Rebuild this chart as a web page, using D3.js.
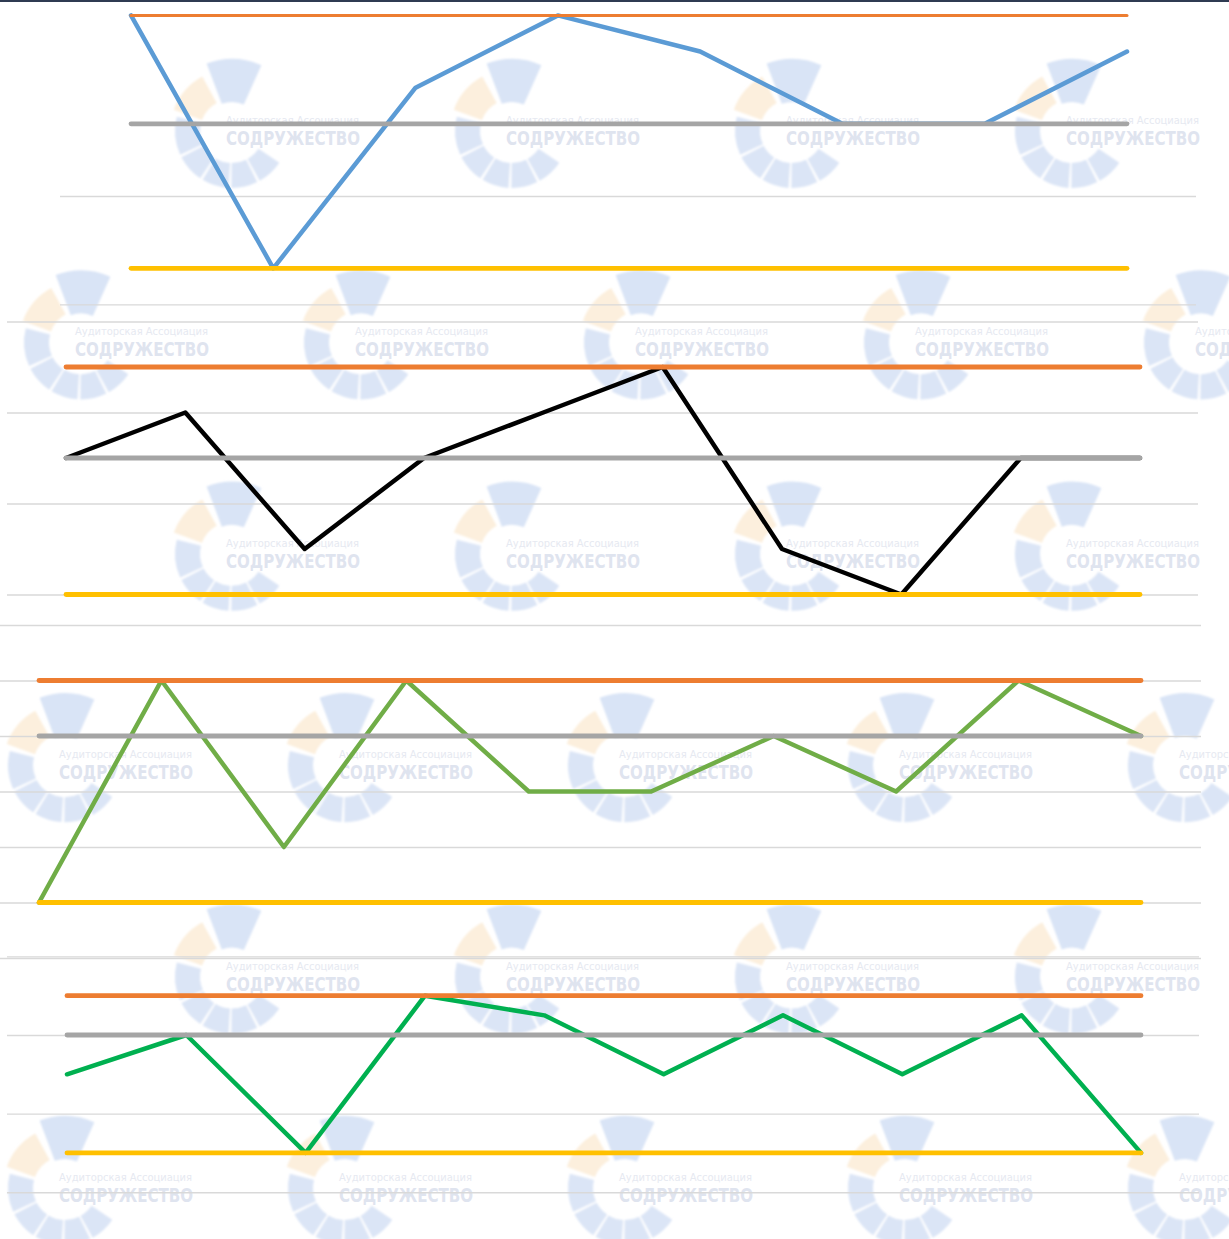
<!DOCTYPE html>
<html>
<head>
<meta charset="utf-8">
<script src="https://cdn.jsdelivr.net/npm/d3@7"></script>
<style>
  html, body { margin: 0; padding: 0; background: #fff; }
  svg { display: block; }
</style>
</head>
<body>
<svg id="chart"></svg>
<script>
// Values per panel, in units (mean line = 0)
const panel1Values = [3, -4, 1, 3, 2, 0, 0, 2];
const panel1Limits = [3, 0, -4];   // upper, mean, lower
const panel1Grid = [-2, -5];

const panel2Values = [0, 1, -2, 0, 1, 2, -2, -3, 0, 0];
const panel2Limits = [2, 0, -3];
const panel2Grid = [3, 1, -1, -3];

const panel3Values = [-3, 1, -2, 1, -1, -1, 0, -1, 1, 0];
const panel3Limits = [1, 0, -3];
const panel3Grid = [2, 1, 0, -1, -2, -3, -4];

const panel4Values = [-1, 0, -3, 1, 0.5, -1, 0.5, -1, 0.5, -3];
const panel4Limits = [1, 0, -3];
const panel4Grid = [2, 0, -2, -4];

const watermarkTitle = "Аудиторская Ассоциация";
const watermarkName = "СОДРУЖЕСТВО";

// Layout
const width = 1229;
const height = 1239;
const limitColors = ["#ED7D31", "#A5A5A5", "#FFC000"];

const panels = [
  { values: panel1Values, limits: panel1Limits, grid: panel1Grid, color: "#5B9BD5",
    x: [131, 1127], gridX: [60, 1196], yDomain: [-5, 3], yRange: [304.4, 15.4] },
  { values: panel2Values, limits: panel2Limits, grid: panel2Grid, color: "#000000",
    x: [66, 1140], gridX: [7, 1198], yDomain: [-3, 3], yRange: [594.5, 321.5] },
  { values: panel3Values, limits: panel3Limits, grid: panel3Grid, color: "#70AD47",
    x: [39, 1141], gridX: [0, 1201], yDomain: [-4, 2], yRange: [958, 625] },
  { values: panel4Values, limits: panel4Limits, grid: panel4Grid, color: "#00B050",
    x: [67, 1141], gridX: [7, 1199], yDomain: [-4, 2], yRange: [1192.2, 956.4] }
];

const svg = d3.select("#chart")
  .attr("width", width)
  .attr("height", height)
  .style("font-family", "'DejaVu Sans Condensed', 'DejaVu Sans', sans-serif");

svg.append("defs")
  .append("filter")
  .attr("id", "soft")
  .attr("x", "-20%").attr("y", "-20%")
  .attr("width", "140%").attr("height", "140%")
  .append("feGaussianBlur")
  .attr("stdDeviation", 1.2);

svg.append("rect")
  .attr("width", width)
  .attr("height", height)
  .attr("fill", "#ffffff");

// Watermark pattern
function drawLogo(g, cx, cy) {
  const logo = g.append("g").attr("transform", `translate(${cx},${cy})`);
  const shapes = logo.append("g").attr("filter", "url(#soft)");
  const arc = d3.arc();

  shapes.append("path")
    .attr("d", arc({innerRadius: 29, outerRadius: 72, startAngle: -0.36, endAngle: 0.42}))
    .attr("fill", "#d9e4f6");

  shapes.append("path")
    .attr("d", arc({innerRadius: 32, outerRadius: 62, startAngle: -1.22, endAngle: -0.5}))
    .attr("fill", "#fcefdd");

  const segments = [[-1.32, -2.0], [-2.05, -2.55], [-2.6, -3.08], [-3.13, -3.6], [-3.65, -4.12]];
  segments.forEach(s => {
    shapes.append("path")
      .attr("d", arc({innerRadius: 32, outerRadius: 57, startAngle: s[0], endAngle: s[1]}))
      .attr("fill", "#dbe5f6");
  });

  logo.append("text")
    .attr("x", -6)
    .attr("y", -7)
    .attr("font-size", 11)
    .attr("textLength", 133)
    .attr("lengthAdjust", "spacingAndGlyphs")
    .attr("fill", "#e6e9f1")
    .text(watermarkTitle);

  logo.append("text")
    .attr("x", -6)
    .attr("y", 14)
    .attr("font-size", 19)
    .attr("font-weight", "bold")
    .attr("textLength", 134)
    .attr("lengthAdjust", "spacingAndGlyphs")
    .attr("fill", "#dfe4ef")
    .text(watermarkName);
}

const watermark = svg.append("g").attr("class", "watermark");
const rowStarts = [226, 75, 226, 59, 226, 59];
rowStarts.forEach((x0, r) => {
  const cy = 131 + r * 211.4;
  for (let tx = x0; tx < width + 20; tx += 280) {
    drawLogo(watermark, tx + 6, cy);
  }
});

// Panels
panels.forEach((p, idx) => {
  const g = svg.append("g").attr("class", `panel-${idx + 1}`);

  const xScale = d3.scaleLinear()
    .domain([0, p.values.length - 1])
    .range(p.x);

  const yScale = d3.scaleLinear()
    .domain(p.yDomain)
    .range(p.yRange);

  // Grid lines
  g.append("g")
    .attr("class", "grid")
    .attr("transform", `translate(${p.gridX[0]},0)`)
    .call(d3.axisLeft(yScale)
      .tickValues(p.grid)
      .tickSize(-(p.gridX[1] - p.gridX[0]))
      .tickFormat(""))
    .call(ax => ax.select(".domain").remove())
    .call(ax => ax.selectAll(".tick line")
      .attr("stroke", "#d9d9d9")
      .attr("stroke-width", 1.4));

  // Series line
  const line = d3.line()
    .x((d, i) => xScale(i))
    .y(d => yScale(d));

  g.append("path")
    .datum(p.values)
    .attr("fill", "none")
    .attr("stroke", p.color)
    .attr("stroke-width", 4.5)
    .attr("stroke-linecap", "round")
    .attr("stroke-linejoin", "round")
    .attr("d", line);

  // Upper, mean and lower limit lines
  p.limits.forEach((v, i) => {
    g.append("line")
      .attr("x1", xScale(0))
      .attr("x2", xScale(p.values.length - 1))
      .attr("y1", yScale(v))
      .attr("y2", yScale(v))
      .attr("stroke", limitColors[i])
      .attr("stroke-width", idx === 0 && i === 0 ? 3 : 4.8)
      .attr("stroke-linecap", "round");
  });
});

// Dark strip at the top edge
svg.append("rect")
  .attr("x", 0)
  .attr("y", 0)
  .attr("width", width)
  .attr("height", 2)
  .attr("fill", "#2f3b52");
</script>
</body>
</html>
